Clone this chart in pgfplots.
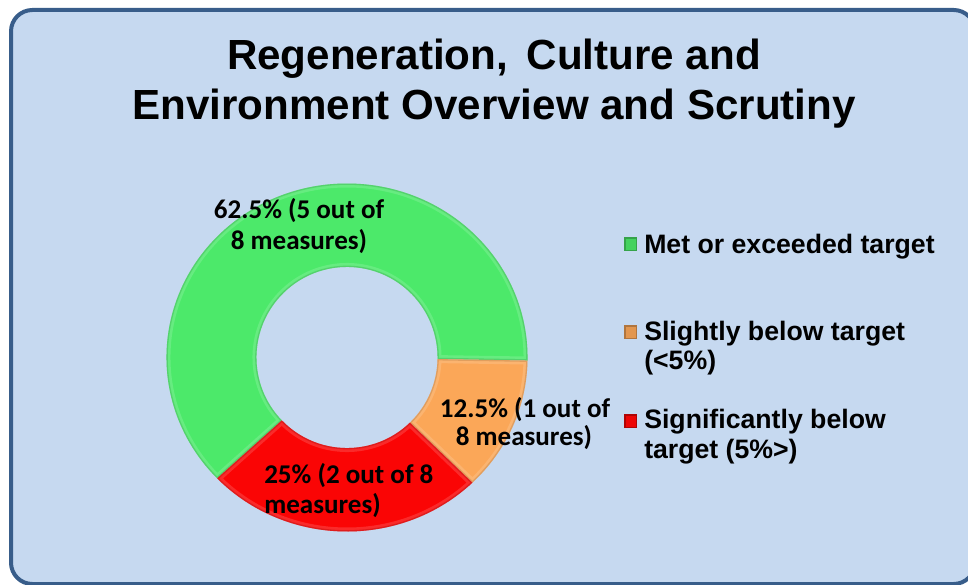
\documentclass[border=0pt]{standalone}
\usepackage{pgfplots}
\pgfplotsset{compat=1.18}
\usepackage{pgfplotstable}
\usepackage{fontspec}
\setmainfont{Liberation Sans}
\newfontfamily\calibri{Carlito}
\definecolor{bgblue}{RGB}{198,217,240}
\definecolor{frameblue}{RGB}{56,93,138}
\definecolor{sgreen}{RGB}{76,233,106}
\definecolor{sorange}{RGB}{251,167,88}
\definecolor{sred}{RGB}{250,5,5}
\pgfplotstableread{
cat value
Met 5
Slight 1
Sig 2
}\donutdata
\begin{document}
\begin{tikzpicture}
\pgfplotstablegetelem{0}{value}\of\donutdata \pgfmathsetmacro\va{\pgfplotsretval}
\pgfplotstablegetelem{1}{value}\of\donutdata \pgfmathsetmacro\vb{\pgfplotsretval}
\pgfplotstablegetelem{2}{value}\of\donutdata \pgfmathsetmacro\vc{\pgfplotsretval}
\pgfmathsetmacro\tot{\va+\vb+\vc}
\pgfmathsetmacro\aS{224}
\pgfmathsetmacro\aA{\aS-360*\va/\tot}
\pgfmathsetmacro\aB{\aA-360*\vb/\tot}
\pgfmathsetmacro\aC{\aB-360*\vc/\tot}
% slice path macro: #1 start angle, #2 end angle (clockwise, #2<#1)
\newcommand\slicepath[2]{(#1:67.9pt) arc[start angle=#1, end angle=#2, radius=67.9pt] -- (#2:135.4pt and 130.5pt) arc[start angle=#2, end angle=#1, x radius=135.4pt, y radius=130.5pt] -- cycle}
\newcommand\slice[3]{%
  \fill[#3] \slicepath{#1}{#2};
  \begin{scope}
    \clip \slicepath{#1}{#2};
    \draw[line width=6pt, white, opacity=0.15] \slicepath{#1}{#2};
    \draw[line width=2pt, #3!70!black, opacity=0.35] \slicepath{#1}{#2};
  \end{scope}
}
\begin{axis}[scale only axis, width=726pt, height=438.75pt,
  xmin=0, xmax=968, ymin=0, ymax=585, y dir=reverse,
  hide axis, clip=false]
% frame
\draw[frameblue, line width=3pt, fill=bgblue, rounded corners=16pt]
  (axis cs:11,10) rectangle (axis cs:975,584);
% title
\node[anchor=base, font=\bfseries\fontsize{31.6}{37}\selectfont] at (axis cs:494,70) {Regeneration,\, Culture and};
\node[anchor=base, font=\bfseries\fontsize{31.6}{37}\selectfont] at (axis cs:494,119) {Environment Overview and Scrutiny};
% donut
\begin{scope}[shift={(axis cs:347,357.5)}]
  \slice{\aS}{\aA}{sgreen}
  \slice{\aA}{\aB}{sorange}
  \slice{\aB}{\aC}{sred}
\end{scope}
% data labels
\begin{scope}[every node/.style={font=\calibri\bfseries\fontsize{20.3}{22.5}\selectfont, inner sep=0pt}]
\node[anchor=base] at (axis cs:299,218) {62.5\% (5 out of};
\node[anchor=base] at (axis cs:299,249) {8 measures)};
\node[anchor=base] at (axis cs:525,417) {12.5\% (1 out of};
\node[anchor=base] at (axis cs:524,445) {8 measures)};
\node[anchor=base west] at (axis cs:264,483) {25\% (2 out of 8};
\node[anchor=base west] at (axis cs:264,513) {measures)};
\end{scope}
% legend
\begin{scope}[every node/.style={font=\bfseries\fontsize{20}{22.5}\selectfont, inner sep=0pt, anchor=base west}]
\fill[sgreen!70!black] (axis cs:624,237) rectangle (axis cs:637,251);
\fill[sgreen!90!black] (axis cs:625.5,238.5) rectangle (axis cs:635.5,249.5);
\fill[sorange!70!black] (axis cs:624,325) rectangle (axis cs:637,339);
\fill[sorange!90!black] (axis cs:625.5,326.5) rectangle (axis cs:635.5,337.5);
\fill[sred!70!black] (axis cs:624,414) rectangle (axis cs:637,428);
\fill[sred!95!black] (axis cs:625.5,415.5) rectangle (axis cs:635.5,426.5);
\node at (axis cs:644,253) {Met or exceeded target};
\node at (axis cs:644,340) {Slightly below target};
\node at (axis cs:644,369) {(<5\%)};
\node at (axis cs:644,428) {Significantly below};
\node at (axis cs:644,458) {target (5\%>)};
\end{scope}
\end{axis}
\pgfresetboundingbox
\useasboundingbox (current axis.south west) rectangle (current axis.north east);
\end{tikzpicture}
\end{document}
